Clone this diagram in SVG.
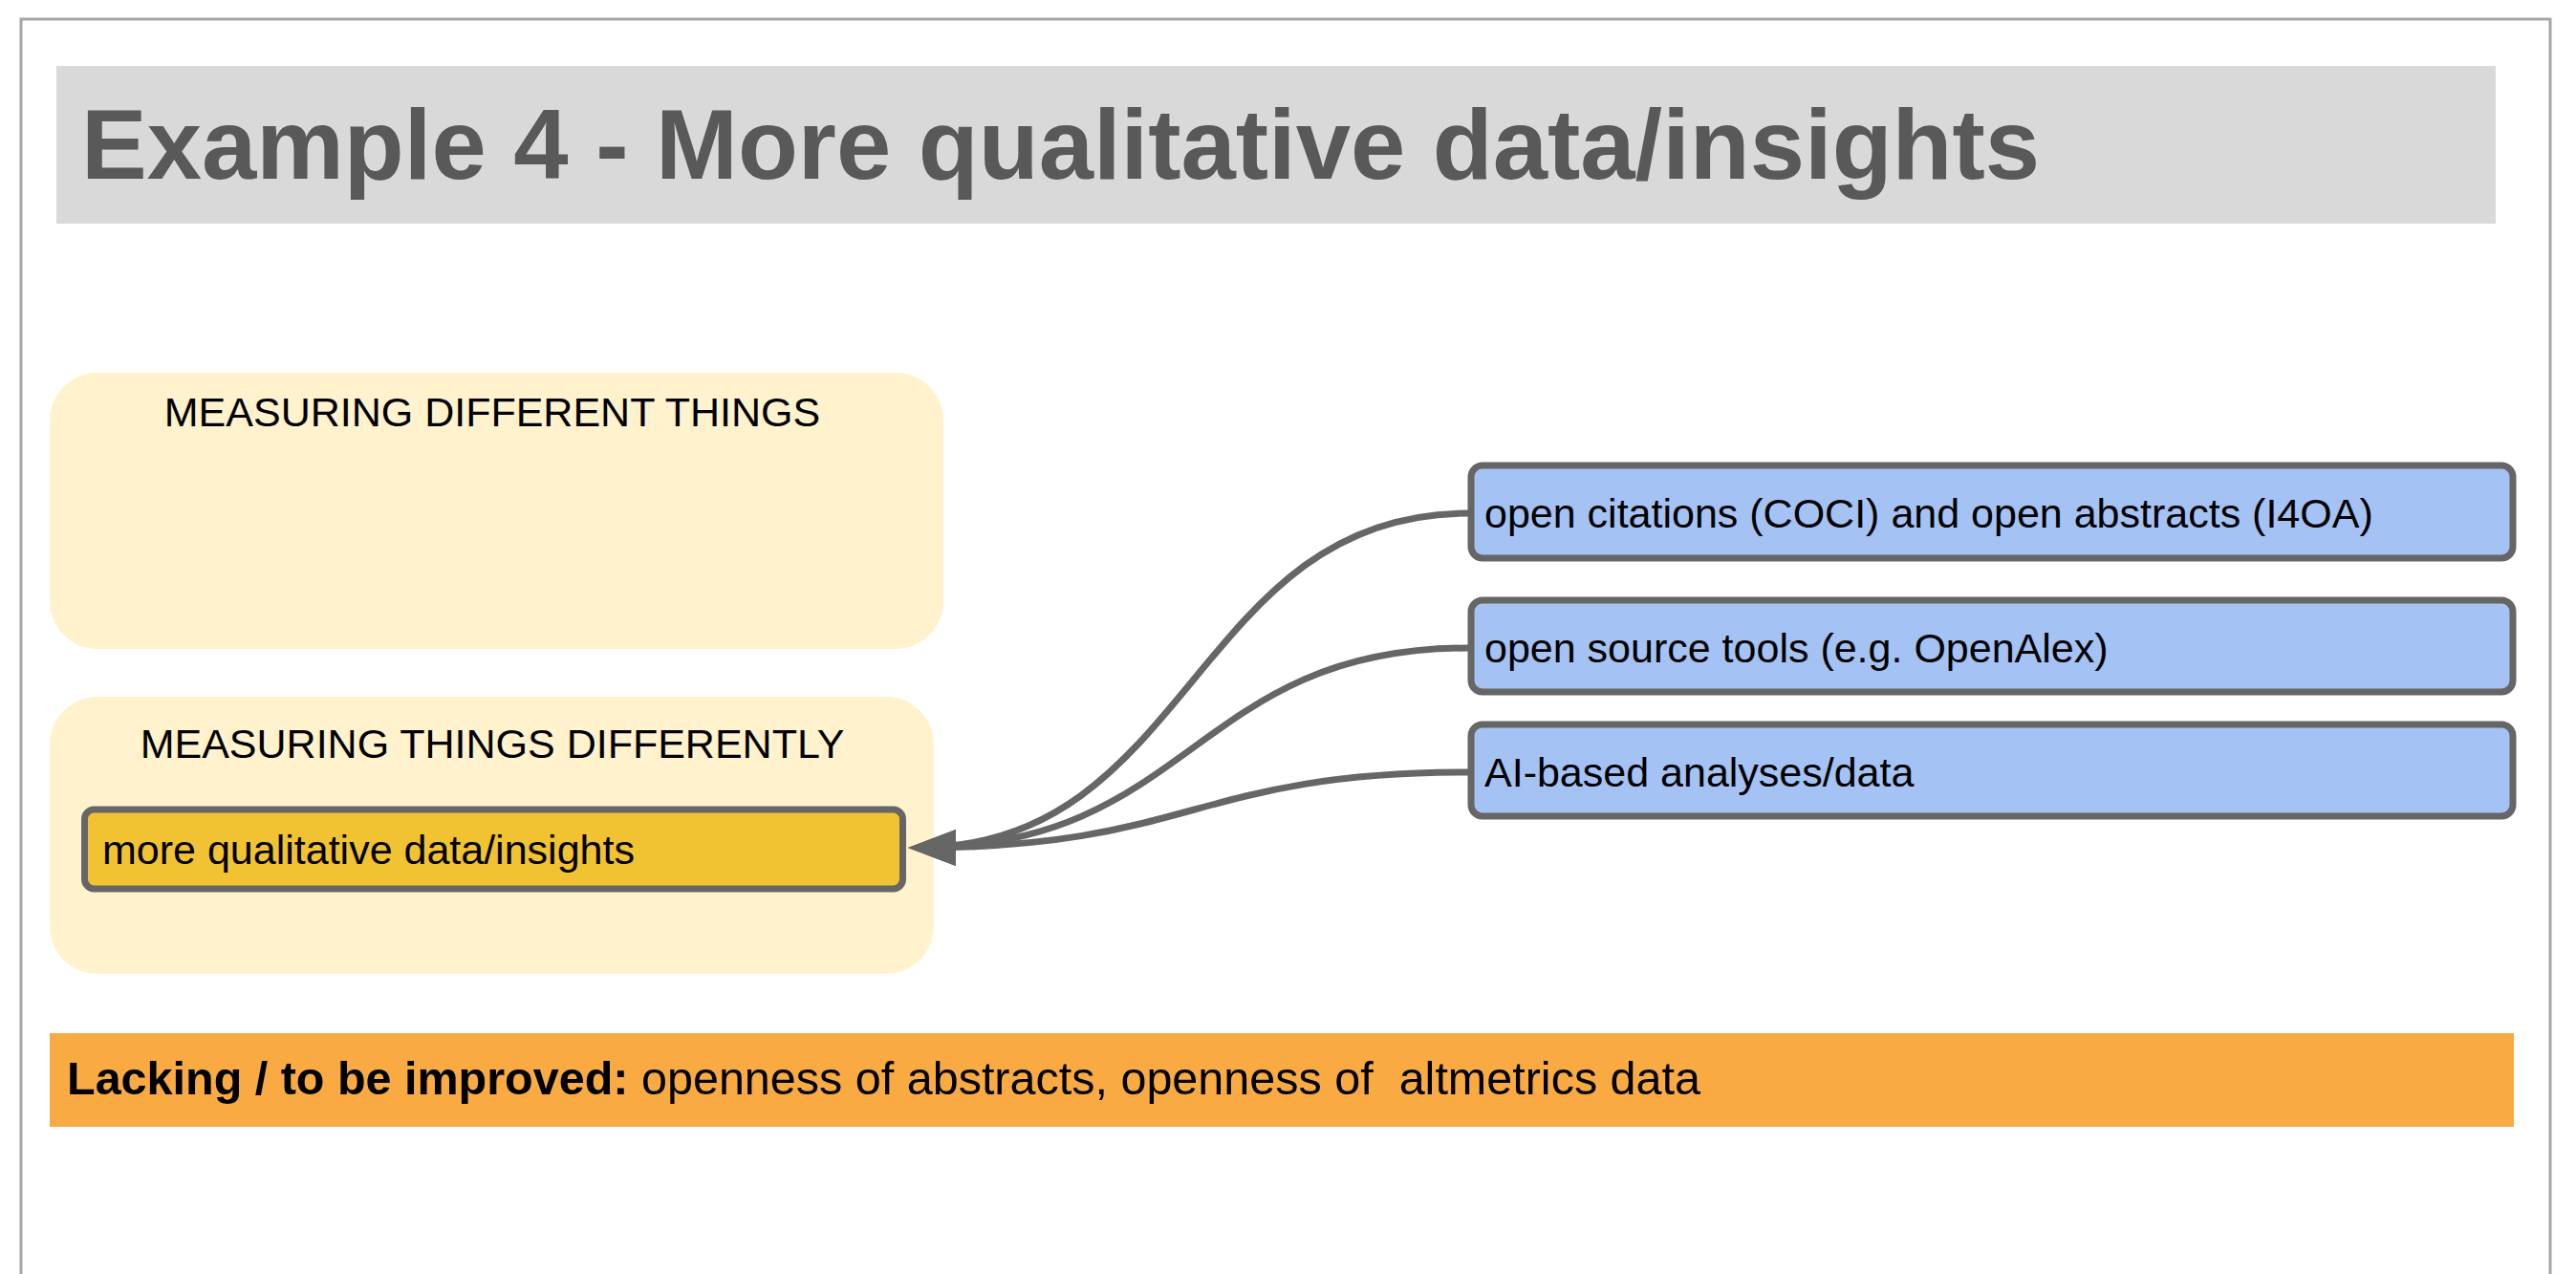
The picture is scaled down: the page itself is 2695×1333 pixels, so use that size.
<svg xmlns="http://www.w3.org/2000/svg" width="2695" height="1333" viewBox="0 0 2695 1333">
<defs>
<style>
.txt{font-family:"Liberation Sans",Arial,sans-serif;fill:#000000}
.sect{font-size:43px}
.lbl{font-size:43px}
.blue{fill:#a4c2f4;stroke:#666666;stroke-width:7}
.cont{fill:#fff2cc}
.conn{fill:none;stroke:#666666;stroke-width:7}
</style>
<marker id="arrow" markerUnits="userSpaceOnUse" markerWidth="52" markerHeight="40" refX="40" refY="19" orient="auto" viewBox="0 0 52 40">
<path d="M0,0 L50,19 L0,38 Z" fill="#666666"/>
</marker>
</defs>
<rect x="0" y="0" width="2695" height="1333" fill="#ffffff"/>
<path d="M22,1340 L22,20 L2668,20 L2668,1340" fill="none" stroke="#a6a6a6" stroke-width="3"/>

<g id="title">
<rect x="59" y="69" width="2552" height="165" fill="#d9d9d9"/>
<text x="85" y="187" font-family="Liberation Sans, Arial, sans-serif" font-weight="bold" font-size="103" fill="#595959">Example 4 - More qualitative data/insights</text>
</g>

<g id="measuring-different-things">
<rect class="cont" x="52" y="390" width="935" height="289" rx="50"/>
<text class="txt sect" x="515" y="446" text-anchor="middle">MEASURING DIFFERENT THINGS</text>
</g>

<g id="measuring-things-differently">
<rect class="cont" x="52" y="729" width="925" height="290" rx="50"/>
<text class="txt sect" x="515" y="793" text-anchor="middle">MEASURING THINGS DIFFERENTLY</text>
</g>

<g id="qualitative">
<rect x="88.5" y="847" width="856" height="83" rx="10" fill="#f1c232" stroke="#666666" stroke-width="7"/>
<text class="txt lbl" x="107" y="904">more qualitative data/insights</text>
</g>

<g id="open-citations">
<rect class="blue" x="1539" y="487" width="1090" height="97" rx="12"/>
<text class="txt lbl" x="1553" y="552">open citations (COCI) and open abstracts (I4OA)</text>
</g>

<g id="open-source">
<rect class="blue" x="1539" y="628" width="1090" height="96" rx="12"/>
<text class="txt lbl" x="1553" y="693">open source tools (e.g. OpenAlex)</text>
</g>

<g id="ai-based">
<rect class="blue" x="1539" y="758" width="1090" height="96" rx="12"/>
<text class="txt lbl" x="1553" y="823">AI-based analyses/data</text>
</g>

<g id="connectors">
<path class="conn" d="M1536,537 C1248,537 1248,887 960,887" marker-end="url(#arrow)"/>
<path class="conn" d="M1536,678 C1248,678 1248,887 960,887" marker-end="url(#arrow)"/>
<path class="conn" d="M1536,808 C1248,808 1248,887 960,887" marker-end="url(#arrow)"/>
</g>

<g id="lacking">
<rect x="52" y="1081" width="2578" height="98" fill="#f9aa43"/>
<text class="txt" x="70" y="1145" font-size="48.5" xml:space="preserve"><tspan font-weight="bold">Lacking / to be improved:</tspan> openness of abstracts, openness of  altmetrics data</text>
</g>
</svg>
